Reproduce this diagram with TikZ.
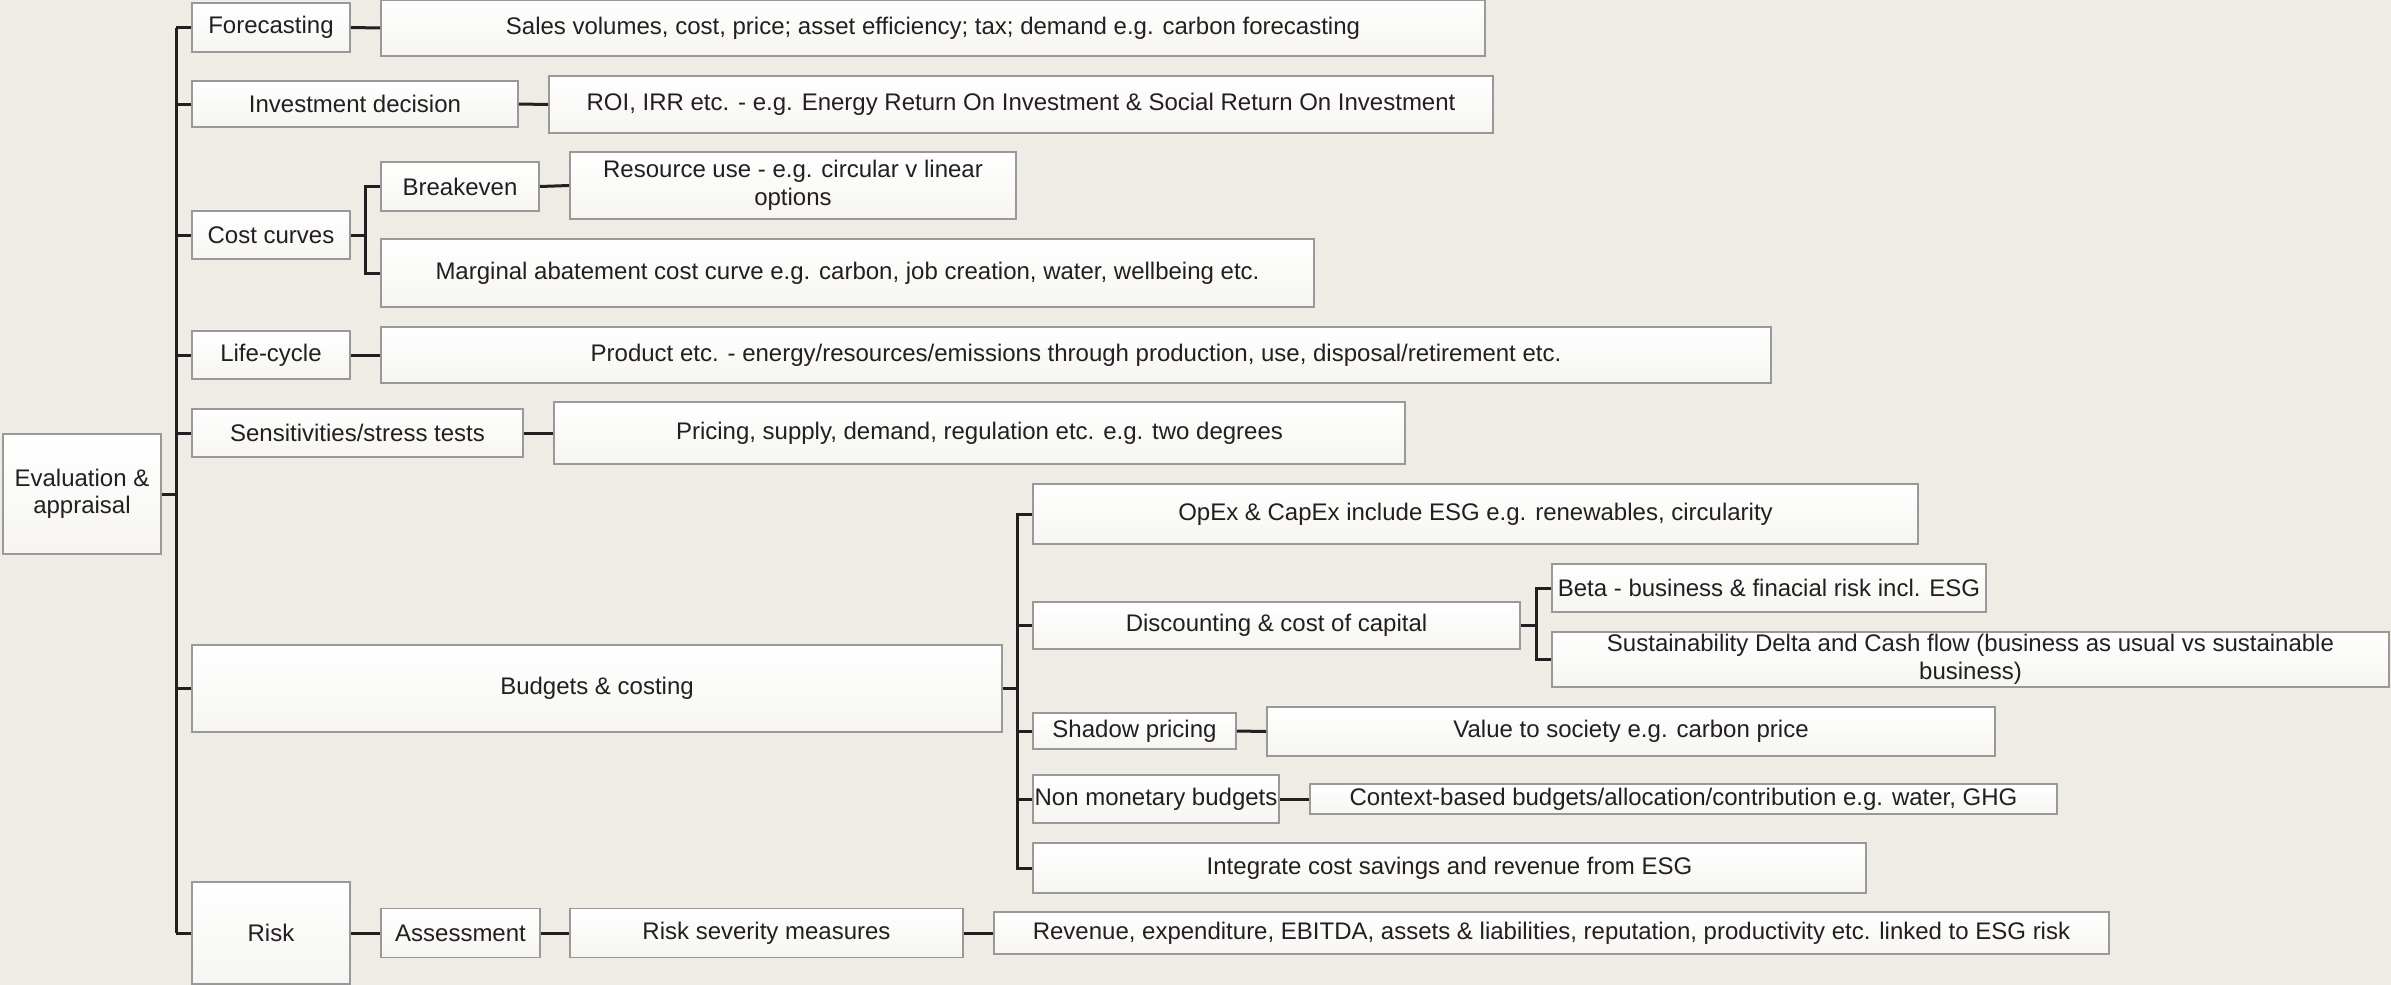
\documentclass[tikz,border=0pt]{standalone}
\usepackage{fontspec}
\setmainfont{Liberation Sans}
\usetikzlibrary{positioning}
\definecolor{bgpaper}{HTML}{EFECE6}
\definecolor{boxline}{HTML}{999999}
\definecolor{boxfill}{HTML}{F6F5F1}
\definecolor{linkline}{HTML}{231F20}
\tikzset
{
	topic/.style = {rectangle, draw=boxline, line width=1.8pt, top color=white, bottom color=boxfill, align=center, inner xsep=1pt, inner ysep=0pt, text=linkline, font=\fontsize{24}{27.5}\selectfont},
	link/.style  = {draw=linkline, line width=3pt}
}

\begin{document}
\begin{tikzpicture}[x=1pt, y=-1pt]
\fill[bgpaper] (0,0) rectangle (2391,985);
\useasboundingbox (0,0) rectangle (2391,985);

\node[topic, minimum width=158pt, minimum height=120pt] (eval) at (82,494) {Evaluation \&\\appraisal};

\node[topic, minimum width=158pt, minimum height=49pt] (fore) at (271,27.5) {Forecasting};
\node[topic, minimum width=326pt, minimum height=46pt] (inv) at (355,104) {Investment decision};
\node[topic, minimum width=158pt, minimum height=48pt] (cost) at (271,235) {Cost curves};
\node[topic, minimum width=158pt, minimum height=48pt] (life) at (271,355) {Life-cycle};
\node[topic, minimum width=331pt, minimum height=48pt] (sens) at (357.5,433) {Sensitivities/stress tests};
\node[topic, minimum width=810pt, minimum height=87pt] (budg) at (597,688.5) {Budgets \& costing};
\node[topic, minimum width=158pt, minimum height=102pt] (risk) at (271,933) {Risk};

\node[topic, minimum width=1104pt, minimum height=56pt] (sales) at (933,28) {Sales volumes, cost, price; asset efficiency; tax; demand e.g. carbon forecasting};
\node[topic, minimum width=944pt, minimum height=57pt] (roi) at (1021,104.5) {ROI, IRR etc. - e.g. Energy Return On Investment \& Social Return On Investment};
\node[topic, minimum width=158pt, minimum height=49pt] (brk) at (460,186.5) {Breakeven};
\node[topic, minimum width=446pt, minimum height=67pt] (res) at (793,185.5) {Resource use - e.g. circular v linear\\options};
\node[topic, minimum width=933pt, minimum height=68pt] (mac) at (847.5,273) {Marginal abatement cost curve e.g. carbon, job creation, water, wellbeing etc.};
\node[topic, minimum width=1390pt, minimum height=56pt] (prod) at (1076,355) {Product etc. - energy/resources/emissions through production, use, disposal/retirement etc.};
\node[topic, minimum width=851pt, minimum height=62pt] (price) at (979.5,433) {Pricing, supply, demand, regulation etc. e.g. two degrees};

\node[topic, minimum width=885pt, minimum height=60pt] (opex) at (1475.5,514) {OpEx \& CapEx include ESG e.g. renewables, circularity};
\node[topic, minimum width=487pt, minimum height=47pt] (disc) at (1276.5,625.5) {Discounting \& cost of capital};
\node[topic, minimum width=434pt, minimum height=48pt] (beta) at (1769,588) {Beta - business \& finacial risk incl. ESG};
\node[topic, minimum width=837pt, minimum height=55pt] (sust) at (1970.5,659.5) {Sustainability Delta and Cash flow (business as usual vs sustainable\\business)};
\node[topic, minimum width=203pt, minimum height=36pt] (shad) at (1134.5,731) {Shadow pricing};
\node[topic, minimum width=728pt, minimum height=49pt] (val) at (1631,731.5) {Value to society e.g. carbon price};
\node[topic, minimum width=246pt, minimum height=48pt] (nonm) at (1156,799) {Non monetary budgets};
\node[topic, minimum width=747pt, minimum height=30pt] (ctx) at (1683.5,799) {Context-based budgets/allocation/contribution e.g. water, GHG};
\node[topic, minimum width=833pt, minimum height=50pt] (integ) at (1449.5,868) {Integrate cost savings and revenue from ESG};

\node[topic, minimum width=159pt, minimum height=49pt] (ass) at (460.5,933) {Assessment};
\node[topic, minimum width=393pt, minimum height=49pt] (sev) at (766.5,933) {Risk severity measures};
\node[topic, minimum width=1115pt, minimum height=42pt] (rev) at (1551.5,933) {Revenue, expenditure, EBITDA, assets \& liabilities, reputation, productivity etc. linked to ESG risk};

\coordinate (trunk) at (176,0);
\coordinate (costbar) at (365,0);
\coordinate (budgbar) at (1017,0);
\coordinate (discbar) at (1536,0);

% main tree
\draw[link] (eval.east) -- (eval.east -| trunk);
\draw[link] (fore.west -| trunk) -- (risk.west -| trunk);
\foreach \n in {fore,inv,cost,life,sens,budg,risk}
	\draw[link] (\n.west -| trunk) -- (\n.west);

% simple links
\foreach \a/\b in {fore/sales,inv/roi,brk/res,life/prod,sens/price,shad/val,nonm/ctx,risk/ass,ass/sev,sev/rev}
	\draw[link] (\a.east) -- (\b.west);

% brackets
\draw[link] (cost.east) -- (cost.east -| costbar);
\draw[link] (brk.west) -- (brk.west -| costbar) -- (mac.west -| costbar) -- (mac.west);
\draw[link] (budg.east) -- (budg.east -| budgbar);
\draw[link] (opex.west) -- (opex.west -| budgbar) -- (integ.west -| budgbar) -- (integ.west);
\foreach \n in {disc,shad,nonm}
	\draw[link] (\n.west -| budgbar) -- (\n.west);
\draw[link] (disc.east) -- (disc.east -| discbar);
\draw[link] (beta.west) -- (beta.west -| discbar) -- (sust.west -| discbar) -- (sust.west);
\end{tikzpicture}
\end{document}
